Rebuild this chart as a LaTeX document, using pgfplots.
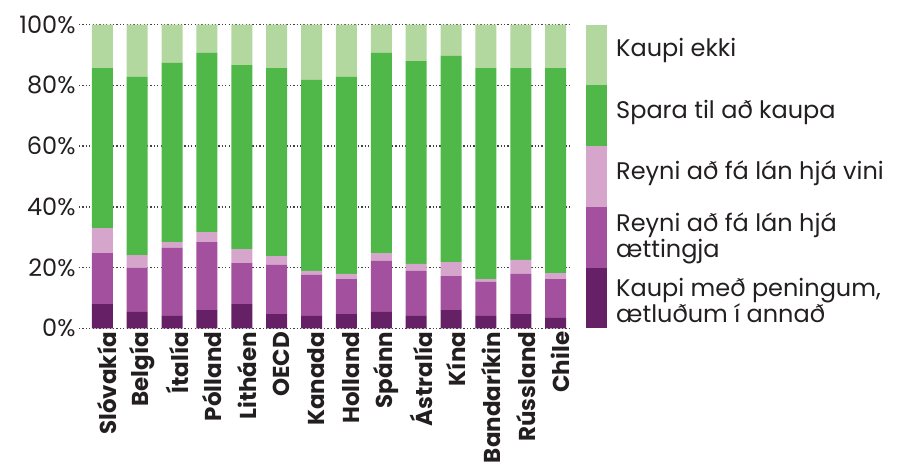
\documentclass[border=0pt]{standalone}
\usepackage{pgfplots}
\pgfplotsset{compat=1.18}
\usepackage{pgfplotstable}
\usepackage{fontspec}
\setmainfont{Poppins}
\definecolor{c1}{RGB}{102,33,102}
\definecolor{c2}{RGB}{163,80,158}
\definecolor{c3}{RGB}{213,165,204}
\definecolor{c4}{RGB}{80,184,72}
\definecolor{c5}{RGB}{178,216,160}
\definecolor{txt}{RGB}{35,31,32}
\pgfplotstableread{
x  a    b    c    d    e
0  8.0  16.8 8.2  52.7 14.3
1  5.4  14.5 4.2  58.7 17.2
2  4.1  22.4 1.9  59.0 12.6
3  6.0  22.4 3.3  59.0 9.3
4  8.0  13.5 4.6  60.6 13.3
5  4.7  16.2 2.9  61.9 14.3
6  4.1  13.5 1.3  62.9 18.2
7  4.7  11.5 1.7  64.9 17.2
8  5.4  16.8 2.6  65.9 9.3
9  4.1  14.8 2.3  66.8 12.0
10 6.0  11.2 4.6  67.9 10.3
11 4.1  11.2 0.9  69.5 14.3
12 4.7  13.2 4.6  63.2 14.3
13 3.4  12.8 2.0  67.5 14.3
}\data
\begin{document}
\begin{tikzpicture}
\begin{axis}[name=ax, scale only axis, width=492bp, height=303.6bp,
  ybar stacked, bar width=21bp, xmin=-0.67, xmax=13.44, ymin=0, ymax=100,
  axis line style={draw=none}, major tick length=0pt,
  xtick={0,...,13},
  xticklabels={Slóvakía,Belgía,Ítalía,Pólland,Litháen,OECD,Kanada,Holland,Spánn,Ástralía,Kína,Bandaríkin,Rússland,Chile},
  x tick label style={rotate=90, anchor=east, yshift=-5bp, font=\fontsize{23bp}{26bp}\selectfont\bfseries, text=txt},
  ytick={0,20,40,60,80,100},
  yticklabels={0\%,20\%,40\%,60\%,80\%,100\%},
  y tick label style={font=\fontsize{24bp}{28bp}\selectfont, text=txt},
  ymajorgrids, grid style={black!75, line width=1.3bp, dash pattern=on 1.3bp off 2.1bp},
  clip=false]
\addplot[fill=c1, draw=none] table[x=x,y=a]{\data};
\addplot[fill=c2, draw=none] table[x=x,y=b]{\data};
\addplot[fill=c3, draw=none] table[x=x,y=c]{\data};
\addplot[fill=c4, draw=none] table[x=x,y=d]{\data};
\addplot[fill=c5, draw=none] table[x=x,y=e]{\data};
\end{axis}
\fill[c1] ([shift={(507bp,0bp)}]ax.south west) rectangle ++(21bp,60.72bp);
\fill[c2] ([shift={(507bp,60.72bp)}]ax.south west) rectangle ++(21bp,60.72bp);
\fill[c3] ([shift={(507bp,121.44bp)}]ax.south west) rectangle ++(21bp,60.72bp);
\fill[c4] ([shift={(507bp,182.16bp)}]ax.south west) rectangle ++(21bp,60.72bp);
\fill[c5] ([shift={(507bp,242.88bp)}]ax.south west) rectangle ++(21bp,60.72bp);
\begin{scope}[every node/.style={anchor=west, align=left, inner sep=0pt, text=txt, font=\fontsize{24bp}{23bp}\selectfont}]
\node at ([shift={(537bp,278bp)}]ax.south west) {Kaupi ekki};
\node at ([shift={(537bp,216bp)}]ax.south west) {Spara til að kaupa};
\node at ([shift={(537bp,155bp)}]ax.south west) {Reyni að fá lán hjá vini};
\node at ([shift={(537bp,90bp)}]ax.south west) {Reyni að fá lán hjá\\ættingja};
\node at ([shift={(537bp,28bp)}]ax.south west) {Kaupi með peningum,\\ætluðum í annað};
\end{scope}
\pgfresetboundingbox
\path[use as bounding box] ([shift={(-79bp,-143.7bp)}]ax.south west) rectangle ++(898bp,472bp);
\end{tikzpicture}
\end{document}
